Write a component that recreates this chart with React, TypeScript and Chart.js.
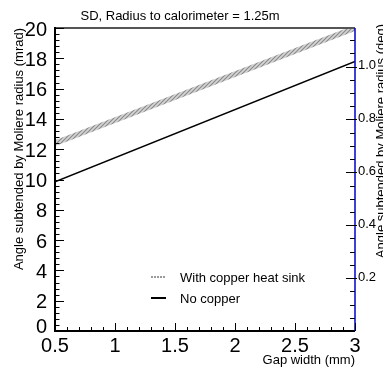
import React, { useEffect, useRef } from "react";
import { Chart, registerables } from "chart.js";

Chart.register(...registerables);

const gapWidth = [0.5, 3];
const withCopper = [12.4, 20.0];
const noCopper = [9.85, 17.8];

const xTicks = [0.5, 1, 1.5, 2, 2.5, 3];
const xTickLabels = ["0.5", "1", "1.5", "2", "2.5", "3"];
const yTicks = [0, 2, 4, 6, 8, 10, 12, 14, 16, 18, 20];
const y2Ticks = [0.2, 0.4, 0.6, 0.8, 1.0];
const y2TickLabels = ["0.2", "0.4", "0.6", "0.8", "1.0"];

const titleText = "SD, Radius to calorimeter = 1.25m";
const xTitle = "Gap width (mm)";
const yTitle = "Angle subtended by Moliere radius (mrad)";
const y2Title = "Angle subtended by Moliere radius (deg)";
const legendLabels = ["With copper heat sink", "No copper"];

const FONT = '"Liberation Sans", Arial, Helvetica, sans-serif';
const Y2MAX = (20 * 180) / (1000 * Math.PI);

function makeHatch(): CanvasPattern | string {
  const c = document.createElement("canvas");
  c.width = 4;
  c.height = 4;
  const g = c.getContext("2d");
  if (!g) return "#aaaaaa";
  g.fillStyle = "#d6d6d6";
  g.fillRect(0, 0, 4, 4);
  g.strokeStyle = "#8a8a8a";
  g.lineWidth = 1.2;
  g.beginPath();
  g.moveTo(0, 4);
  g.lineTo(4, 0);
  g.moveTo(-1, 1);
  g.lineTo(1, -1);
  g.moveTo(3, 5);
  g.lineTo(5, 3);
  g.stroke();
  const p = g.createPattern(c, "repeat");
  return p || "#aaaaaa";
}

const decor = {
  id: "decor",
  afterDraw(chart: any) {
    const ctx = chart.ctx as CanvasRenderingContext2D;
    const { left, right, top, bottom } = chart.chartArea;
    const xs = chart.scales.x;
    const ys = chart.scales.y;
    const y2s = chart.scales.y2;
    ctx.save();

    // frame
    ctx.lineWidth = 2;
    ctx.strokeStyle = "#555555";
    ctx.beginPath();
    ctx.moveTo(left, top);
    ctx.lineTo(right, top);
    ctx.stroke();
    ctx.strokeStyle = "#000000";
    ctx.beginPath();
    ctx.moveTo(left, top - 1);
    ctx.lineTo(left, bottom);
    ctx.lineTo(right, bottom);
    ctx.stroke();
    ctx.strokeStyle = "#0000cc";
    ctx.lineWidth = 1.5;
    ctx.beginPath();
    ctx.moveTo(right, top);
    ctx.lineTo(right, bottom);
    ctx.stroke();

    // x ticks
    ctx.strokeStyle = "#000";
    ctx.lineWidth = 1;
    for (let i = 0; i <= 25; i++) {
      const v = 0.5 + i * 0.1;
      const px = Math.round(xs.getPixelForValue(v)) + 0.5;
      const len = i % 5 === 0 ? 8 : 4;
      ctx.beginPath();
      ctx.moveTo(px, bottom);
      ctx.lineTo(px, bottom - len);
      ctx.stroke();
    }
    // y ticks
    for (let i = 0; i <= 50; i++) {
      const v = i * 0.4;
      const py = Math.round(ys.getPixelForValue(v)) + 0.5;
      const len = i % 5 === 0 ? 9 : 4.5;
      ctx.beginPath();
      ctx.moveTo(left, py);
      ctx.lineTo(left + len, py);
      ctx.stroke();
    }
    // y2 ticks
    for (let i = 1; i * 0.05 <= Y2MAX; i++) {
      const v = i * 0.05;
      const py = Math.round(y2s.getPixelForValue(v)) + 0.5;
      const major = i % 4 === 0;
      const len = major ? 9 : 5;
      ctx.beginPath();
      ctx.moveTo(right + (major ? 2 : 0), py);
      ctx.lineTo(right - len, py);
      ctx.stroke();
    }

    // tick labels
    ctx.fillStyle = "#000";
    ctx.font = `20px ${FONT}`;
    ctx.textAlign = "center";
    ctx.textBaseline = "alphabetic";
    xTicks.forEach((v, i) => {
      ctx.fillText(xTickLabels[i], xs.getPixelForValue(v), 352);
    });
    ctx.textAlign = "right";
    ctx.textBaseline = "middle";
    yTicks.forEach((v) => {
      let py = ys.getPixelForValue(v) + 2;
      if (v === 0) py -= 6;
      ctx.fillText(String(v), left - 8, py);
    });
    ctx.font = `13px ${FONT}`;
    ctx.textAlign = "left";
    y2Ticks.forEach((v, i) => {
      ctx.fillText(y2TickLabels[i], right + 3, y2s.getPixelForValue(v) - 1);
    });

    // titles
    ctx.font = `13px ${FONT}`;
    ctx.textAlign = "center";
    ctx.textBaseline = "alphabetic";
    ctx.fillText(titleText, 180, 20);
    ctx.textAlign = "right";
    ctx.fillText(xTitle, right, 364);

    ctx.save();
    ctx.translate(23, 28);
    ctx.rotate(-Math.PI / 2);
    ctx.textAlign = "right";
    ctx.fillText(yTitle, 0, 0);
    ctx.restore();

    ctx.save();
    ctx.translate(385, 24);
    ctx.rotate(-Math.PI / 2);
    ctx.textAlign = "right";
    ctx.fillText(y2Title, 0, 0);
    ctx.restore();

    // legend
    ctx.lineWidth = 2;
    ctx.strokeStyle = "#9a9a9a";
    ctx.setLineDash([2, 1]);
    ctx.beginPath();
    ctx.moveTo(151, 277);
    ctx.lineTo(166, 277);
    ctx.stroke();
    ctx.setLineDash([]);
    ctx.strokeStyle = "#000";
    ctx.beginPath();
    ctx.moveTo(151, 298);
    ctx.lineTo(166, 298);
    ctx.stroke();
    ctx.textAlign = "left";
    ctx.textBaseline = "middle";
    ctx.fillText(legendLabels[0], 180, 278);
    ctx.fillText(legendLabels[1], 180, 299);

    ctx.restore();
  },
};

export default function App() {
  const ref = useRef<HTMLCanvasElement | null>(null);
  useEffect(() => {
    if (!ref.current) return;
    const hatch = makeHatch();
    const chart = new Chart(ref.current, {
      type: "line",
      data: {
        datasets: [
          {
            label: legendLabels[0],
            data: gapWidth.map((x, i) => ({ x, y: withCopper[i] })),
            borderColor: hatch as any,
            borderWidth: 5.5,
            pointRadius: 0,
            yAxisID: "y",
            borderCapStyle: "butt",
          },
          {
            label: legendLabels[1],
            data: gapWidth.map((x, i) => ({ x, y: noCopper[i] })),
            borderColor: "#000000",
            borderWidth: 1.5,
            pointRadius: 0,
            yAxisID: "y",
          },
        ],
      },
      options: {
        responsive: false,
        animation: false,
        layout: { padding: { left: 55, right: 28, top: 28, bottom: 40 } },
        plugins: { legend: { display: false }, tooltip: { enabled: false }, title: { display: false } },
        scales: {
          x: { type: "linear", min: 0.5, max: 3, display: false },
          y: { type: "linear", min: 0, max: 20, display: false },
          y2: { type: "linear", min: 0, max: Y2MAX, display: false, position: "right" },
        },
      },
      plugins: [decor],
    });
    return () => chart.destroy();
  }, []);
  return (
    <div style={{ position: "fixed", left: 0, top: 0, width: 383, height: 371, background: "#fff" }}>
      <canvas ref={ref} width={383} height={371} style={{ width: 383, height: 371, display: "block" }} />
    </div>
  );
}
